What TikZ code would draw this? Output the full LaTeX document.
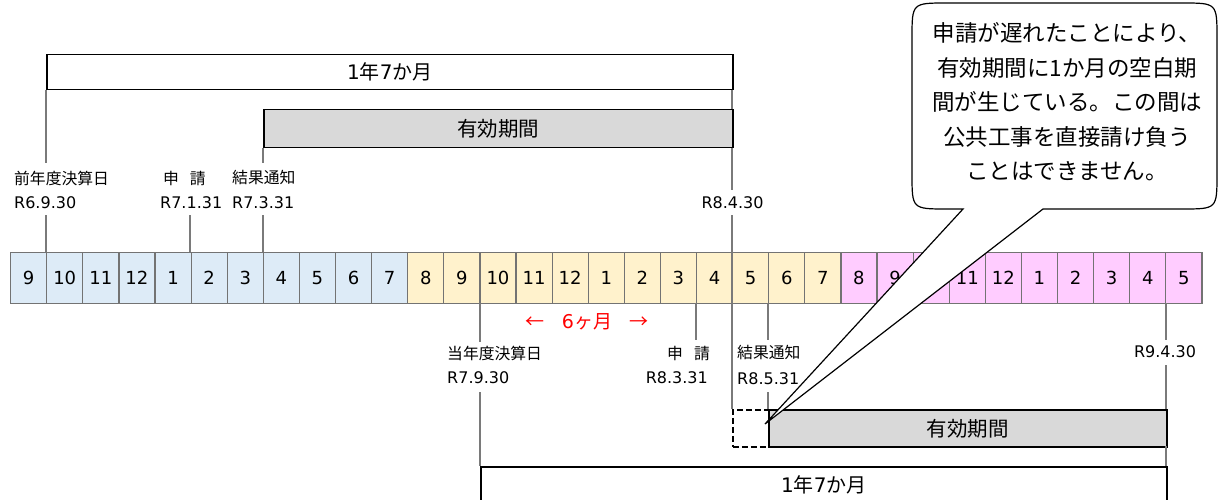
\documentclass[tikz,border=0pt]{standalone}
\usepackage{fontspec}
\setmainfont{DejaVu Sans}
\newfontfamily\jp{Noto Sans CJK JP}
\definecolor{cblue}{HTML}{DDEBF7}
\definecolor{cyel}{HTML}{FFF2CC}
\definecolor{cpink}{HTML}{FFCCFF}
\definecolor{boxgray}{HTML}{D9D9D9}
\definecolor{vgray}{HTML}{7A7A7A}
\begin{document}
\begin{tikzpicture}[x=1pt,y=-1pt,
  cell/.style={draw=black!55, line width=1.2pt, minimum width=36.1pt, minimum height=51pt, inner sep=0pt, anchor=north west, font=\fontsize{18}{20}\selectfont},
  spanbox/.style={draw=black, line width=1.5pt, fill=white, inner sep=0pt, anchor=north west, font=\fontsize{20}{24}\selectfont},
  validbox/.style={draw=black, line width=1.5pt, fill=boxgray, inner sep=0pt, anchor=north west, font=\jp\fontsize{20.5}{24}\selectfont},
  gapbox/.style={draw=black, line width=1.5pt, dash pattern=on 6pt off 3pt, inner sep=0pt, anchor=north west},
  vline/.style={draw=vgray, line width=1.2pt},
  lbl/.style={font=\fontsize{16}{18}\selectfont, inner sep=0pt},
  jlbl/.style={font=\jp\fontsize{15.8}{18}\selectfont, inner sep=0pt},
  callout/.style={draw=black, line width=1.2pt, fill=white},
]
\useasboundingbox (0,0) rectangle (1219,500);
\clip (0,0) rectangle (1219,500);

% month cells
\foreach \m [count=\i from 0] in {9,10,11,12,1,2,3,4,5,6,7,8,9,10,11,12,1,2,3,4,5,6,7,8,9,10,11,12,1,2,3,4,5} {
  \pgfmathsetmacro\cx{10+36.1*\i}
  \ifnum\i<11 \def\cc{cblue}\else\ifnum\i<23 \def\cc{cyel}\else\def\cc{cpink}\fi\fi
  \node[cell, fill=\cc] (c\i) at (\cx,252) {\m};
}

% top boxes
\node[spanbox, minimum width=686pt, minimum height=35pt] (span1) at (46,54) {1{\jp 年}7{\jp か月}};
\node[validbox, minimum width=469pt, minimum height=38pt] (valid1) at (263,109) {有効期間};

% bottom boxes
\node[gapbox, minimum width=36pt, minimum height=37pt] (gap) at (732,409) {};
\node[validbox, minimum width=398pt, minimum height=37pt] (valid2) at (768,409) {有効期間};
\node[spanbox, minimum width=686pt, minimum height=36pt] (span2) at (480,466) {1{\jp 年}7{\jp か月}};

% vertical marker lines (top)
\draw[vline] (46,90) -- (46,163);
\draw[vline] (46,215) -- (46,252);
\draw[vline] (190,215) -- (190,252);
\draw[vline] (263,148) -- (263,163);
\draw[vline] (263,215) -- (263,252);
\draw[vline] (732,90) -- (732,109);
\draw[vline] (732,148) -- (732,190);
\draw[vline] (732,215) -- (732,409);
% vertical marker lines (bottom)
\draw[vline] (480,303) -- (480,342);
\draw[vline] (480,392) -- (480,466);
\draw[vline] (696,303) -- (696,340);
\draw[vline] (768,303) -- (768,340);
\draw[vline] (768,392) -- (768,409);
\draw[vline] (1166,303) -- (1166,340);
\draw[vline] (1166,365) -- (1166,409);
\draw[vline] (1166,446) -- (1166,466);

% top labels
\node[jlbl, anchor=west] (l1) at (14,178) {前年度決算日};
\node[lbl, anchor=west] (d1) at (14,203) {R6.9.30};
\node[jlbl, anchor=west] (l2) at (163,178) {申\hspace{11pt}請};
\node[lbl, anchor=west] (d2) at (160,203) {R7.1.31};
\node[jlbl, anchor=west] (l3) at (232,178) {結果通知};
\node[lbl, anchor=west] (d3) at (232,203) {R7.3.31};
\node[lbl] (d4) at (732.5,203) {R8.4.30};

% bottom labels
\node[font=\fontsize{19}{22}\selectfont, text=red, inner sep=0pt] (six) at (587,322) {{\jp ←}\hspace{17pt}6{\jp ヶ月}\hspace{17pt}{\jp →}};
\node[jlbl, anchor=west] (l5) at (447,353) {当年度決算日};
\node[lbl, anchor=west] (d5) at (447,378) {R7.9.30};
\node[jlbl, anchor=east] (l6) at (710,353) {申\hspace{11pt}請};
\node[lbl, anchor=east] (d6) at (708,378) {R8.3.31};
\node[jlbl, anchor=west] (l7) at (737,353) {結果通知};
\node[lbl, anchor=west] (d7) at (737,379) {R8.5.31};
\node[lbl] (d8) at (1165,352) {R9.4.30};

% callout
\coordinate (tip) at (765,424);
\draw[callout] (947,3) -- (1182,3) .. controls (1217,3) .. (1217,38)
  -- (1217,174) .. controls (1217,209) .. (1182,209)
  -- (1043,209) -- (tip) -- (963,209)
  -- (947,209) .. controls (912,209) .. (912,174)
  -- (912,38) .. controls (912,3) .. (947,3) -- cycle;
\node[font=\jp\fontsize{22.5}{34.5}\selectfont, align=center, inner sep=0pt] (note) at (1067,102)
  {申請が遅れたことにより、\\有効期間に1か月の空白期\\間が生じている。この間は\\公共工事を直接請け負う\\ことはできません。};
\end{tikzpicture}
\end{document}
